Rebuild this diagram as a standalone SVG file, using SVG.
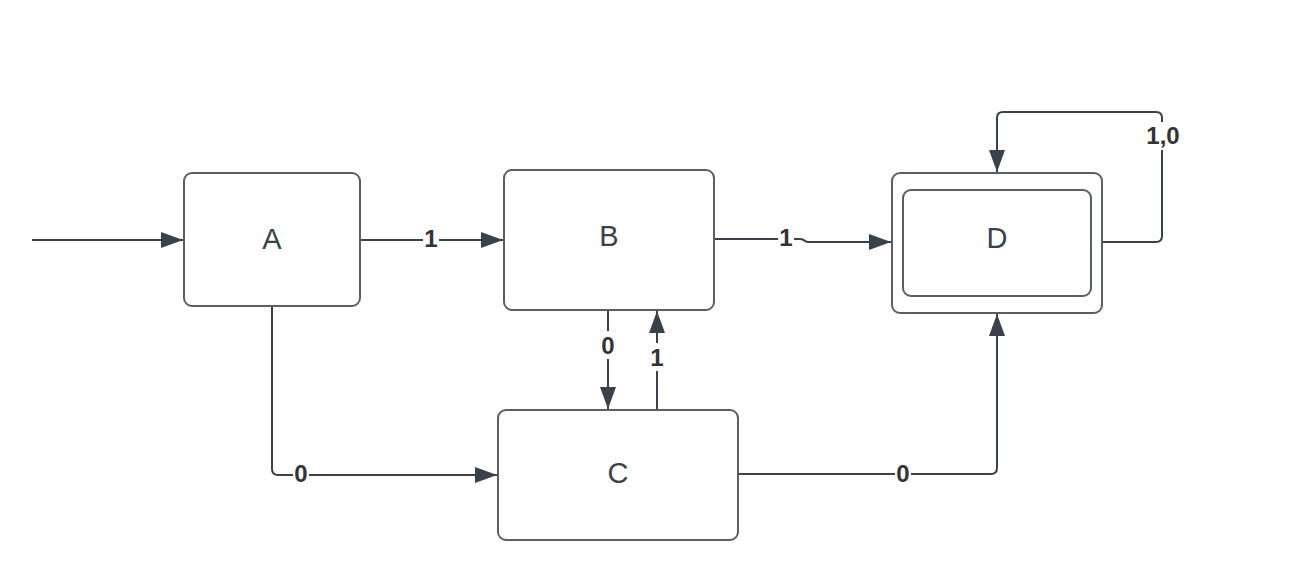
<svg xmlns="http://www.w3.org/2000/svg" width="1294" height="584" viewBox="0 0 1294 584">
<style>
.node{fill:#fff;stroke:#5a5e66;stroke-width:2}
.nl{font-family:"Liberation Sans",Arial,sans-serif;font-size:29px;fill:#3a414a;text-anchor:middle;dominant-baseline:central}
.edge{fill:none;stroke:#3a414a;stroke-width:2}
.el{font-family:"Liberation Sans",Arial,sans-serif;font-size:24px;font-weight:bold;fill:#333;text-anchor:middle;dominant-baseline:central}
.bg{fill:#fff}
</style>
<defs>
<marker id="ah" viewBox="0 0 22 16" refX="22" refY="8" markerWidth="22" markerHeight="16" markerUnits="userSpaceOnUse" orient="auto">
<path d="M0,0 L22,8 L0,16 Z" fill="#3a414a"/>
</marker>
</defs>
<rect width="1294" height="584" fill="#fff"/>
<g id="connectors">
<path class="edge" d="M32,240 H183" marker-end="url(#ah)"/>
<path class="edge" d="M361,240 H503" marker-end="url(#ah)"/>
<path class="edge" d="M715,239 H800 Q803,239 805,241 Q806,242 809,242 H891" marker-end="url(#ah)"/>
<path class="edge" d="M1103,242 H1156 Q1162,242 1162,236 V118 Q1162,112 1156,112 H1003 Q997,112 997,118 V172" marker-end="url(#ah)"/>
<path class="edge" d="M272,307 V469 Q272,475 278,475 H497" marker-end="url(#ah)"/>
<path class="edge" d="M608,311 V409" marker-end="url(#ah)"/>
<path class="edge" d="M657,409 V311" marker-end="url(#ah)"/>
<path class="edge" d="M739,474 H991 Q997,474 997,468 V314" marker-end="url(#ah)"/>
<rect class="bg" x="423" y="228" width="16" height="24"/>
<text class="el" x="431" y="238">1</text>
<rect class="bg" x="778" y="226" width="16" height="24"/>
<text class="el" x="786" y="237">1</text>
<rect class="bg" x="1143" y="122" width="40" height="28"/>
<text class="el" x="1163" y="135">1,0</text>
<rect class="bg" x="293" y="460" width="16" height="26"/>
<text class="el" x="301" y="473">0</text>
<rect class="bg" x="600" y="331" width="16" height="28"/>
<text class="el" x="608" y="345">0</text>
<rect class="bg" x="649" y="343" width="16" height="28"/>
<text class="el" x="657" y="357">1</text>
<rect class="bg" x="895" y="460" width="16" height="26"/>
<text class="el" x="903" y="473">0</text>
</g>
<g id="node-A">
<rect class="node" x="184" y="173" width="176" height="133" rx="8"/>
<text class="nl" x="272" y="239">A</text>
</g>
<g id="node-B">
<rect class="node" x="504" y="170" width="210" height="140" rx="8"/>
<text class="nl" x="609" y="236">B</text>
</g>
<g id="node-C">
<rect class="node" x="498" y="410" width="240" height="130" rx="8"/>
<text class="nl" x="618" y="473">C</text>
</g>
<g id="node-D">
<rect class="node" x="892" y="173" width="210" height="140" rx="8"/>
<rect class="node" x="903" y="190" width="188" height="106" rx="8"/>
<text class="nl" x="997" y="238">D</text>
</g>
</svg>
